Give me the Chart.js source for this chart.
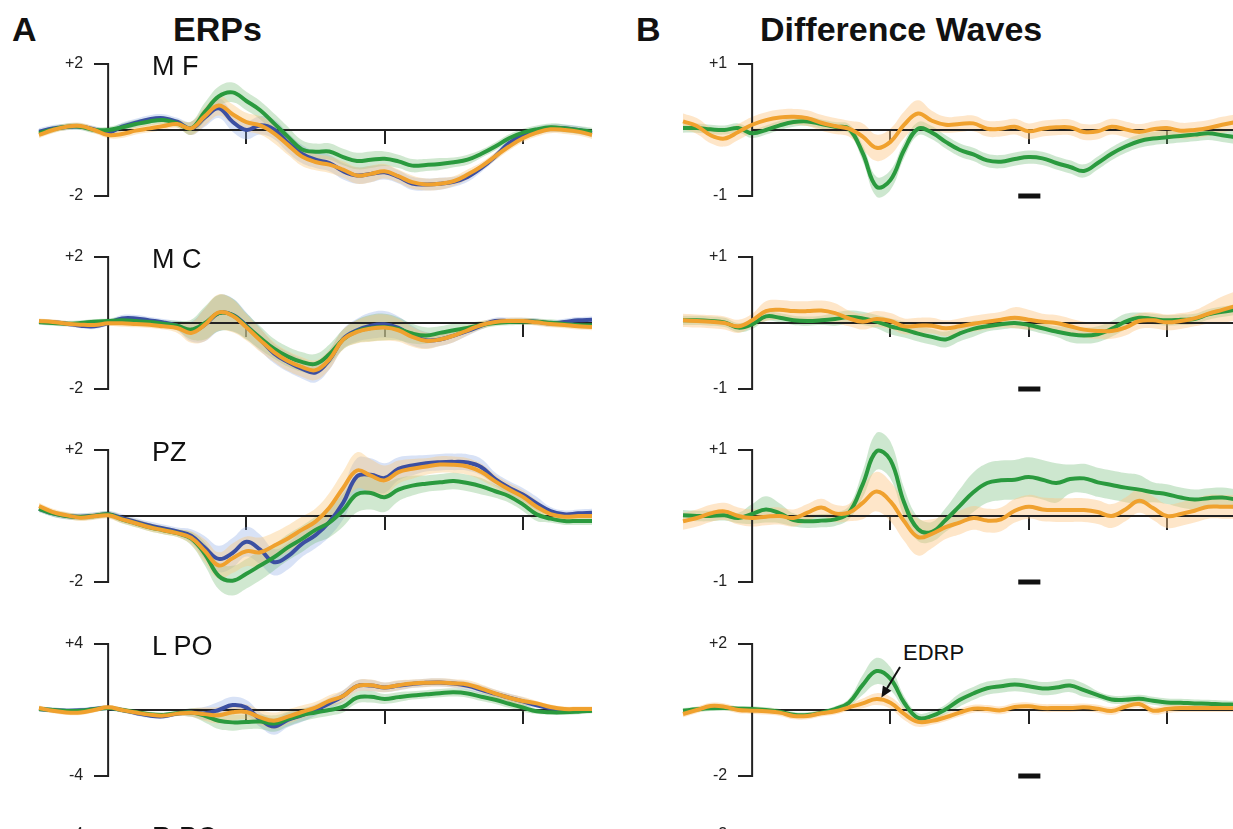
<!DOCTYPE html>
<html>
<head>
<meta charset="utf-8">
<script src="https://cdn.jsdelivr.net/npm/chart.js@4.4.1/dist/chart.umd.min.js"></script>
<style>
html, body { margin:0; padding:0; width:1233px; height:829px; overflow:hidden; background:#fff; }
body { position:relative; font-family:"Liberation Sans", Arial, sans-serif; color:#111; }
canvas { position:absolute; }
.t { position:absolute; line-height:1; white-space:nowrap; }
.big { font-size:34px; font-weight:bold; }
.lab { font-size:27px; }
.note { font-size:22px; }
</style>
</head>
<body>
<div class="t big" style="left:12px;top:12px">A</div>
<div class="t big" style="left:173px;top:12px">ERPs</div>
<div class="t big" style="left:636px;top:12px">B</div>
<div class="t big" style="left:760px;top:12px">Difference Waves</div>
<div class="t note" style="left:903px;top:642px">EDRP</div>

<script>
// time in ms, one sample every 20 ms
var times = [-100,-80,-60,-40,-20,0,20,40,60,80,100,120,140,160,180,200,220,240,260,280,300,
  320,340,360,380,400,420,440,460,480,500,520,540,560,580,600,620,640,660,680,700];

// ---- A: ERPs (uV) ----
var mfBlue   = [-0.05,0.05,0.09,0.1,0.02,-0.08,0.1,0.22,0.33,0.36,0.25,0.05,0.38,0.66,0.25,0.0,0.14,0.02,-0.38,-0.72,-0.9,-1.0,-1.25,-1.38,-1.33,-1.28,-1.42,-1.62,-1.65,-1.63,-1.57,-1.42,-1.15,-0.8,-0.4,-0.15,-0.02,0.05,0.05,0.0,-0.1];
var mfGreen  = [-0.1,0.02,0.1,0.1,0.0,0.0,0.08,0.18,0.26,0.3,0.2,0.05,0.55,1.02,1.14,0.88,0.6,0.2,-0.2,-0.58,-0.66,-0.65,-0.82,-0.94,-0.9,-0.87,-0.95,-1.08,-1.06,-1.03,-0.98,-0.9,-0.72,-0.5,-0.25,-0.08,0.02,0.08,0.05,0.0,-0.05];
var mfOrange = [-0.15,0.0,0.1,0.12,0.0,-0.15,-0.12,-0.02,0.05,0.12,0.18,0.05,0.42,0.74,0.48,0.24,0.14,-0.1,-0.45,-0.8,-0.97,-1.05,-1.2,-1.38,-1.33,-1.25,-1.4,-1.58,-1.65,-1.63,-1.55,-1.35,-1.1,-0.8,-0.5,-0.25,-0.08,0.02,0.0,-0.05,-0.15];
var mfSem    = [0.1,0.1,0.1,0.1,0.1,0.1,0.12,0.12,0.12,0.12,0.12,0.2,0.28,0.3,0.3,0.28,0.28,0.3,0.3,0.28,0.25,0.25,0.25,0.25,0.25,0.22,0.2,0.2,0.18,0.18,0.15,0.15,0.12,0.12,0.12,0.12,0.12,0.12,0.12,0.12,0.12];

var mcBlue   = [0.03,0.02,-0.02,-0.08,-0.1,0.0,0.14,0.14,0.08,0.02,-0.08,-0.26,-0.05,0.3,0.25,-0.08,-0.5,-0.92,-1.18,-1.38,-1.5,-1.12,-0.48,-0.22,-0.08,-0.04,-0.15,-0.38,-0.52,-0.5,-0.38,-0.24,-0.08,0.06,0.06,0.06,0.04,-0.01,0.03,0.08,0.1];
var mcGreen  = [0.03,0.0,-0.02,0.0,0.04,0.06,0.08,0.06,0.03,-0.02,-0.08,-0.2,0.0,0.3,0.24,-0.1,-0.45,-0.78,-1.02,-1.18,-1.24,-0.95,-0.5,-0.25,-0.15,-0.12,-0.18,-0.32,-0.38,-0.3,-0.22,-0.15,-0.06,0.0,0.03,0.04,0.04,0.01,-0.03,-0.06,-0.07];
var mcOrange = [0.06,0.03,-0.02,-0.05,-0.06,-0.01,-0.01,-0.03,-0.05,-0.1,-0.15,-0.3,-0.05,0.32,0.22,-0.13,-0.52,-0.88,-1.15,-1.33,-1.43,-1.1,-0.5,-0.27,-0.17,-0.14,-0.22,-0.42,-0.54,-0.5,-0.38,-0.22,-0.06,0.03,0.06,0.06,0.02,-0.03,-0.06,-0.1,-0.12];
var mcSem    = [0.08,0.08,0.08,0.08,0.08,0.08,0.1,0.1,0.1,0.1,0.15,0.3,0.5,0.55,0.5,0.4,0.35,0.3,0.3,0.3,0.3,0.3,0.3,0.35,0.4,0.4,0.35,0.3,0.25,0.2,0.2,0.15,0.12,0.1,0.1,0.1,0.1,0.1,0.1,0.1,0.1];

var pzBlue   = [0.22,0.08,0.0,-0.02,0.01,0.05,-0.06,-0.18,-0.29,-0.38,-0.47,-0.6,-0.96,-1.3,-1.12,-0.78,-1.02,-1.4,-1.22,-0.85,-0.58,-0.18,0.4,1.2,1.25,1.15,1.43,1.53,1.6,1.63,1.64,1.62,1.48,1.12,0.86,0.65,0.38,0.15,0.05,0.08,0.1];
var pzGreen  = [0.22,0.08,0.0,-0.03,0.0,0.05,-0.1,-0.22,-0.34,-0.43,-0.52,-0.68,-1.15,-1.82,-1.96,-1.75,-1.5,-1.25,-0.95,-0.7,-0.42,-0.2,0.18,0.66,0.7,0.57,0.8,0.92,0.98,1.02,1.06,1.0,0.9,0.75,0.6,0.35,0.05,-0.08,-0.15,-0.15,-0.15];
var pzOrange = [0.3,0.12,0.02,-0.05,-0.01,0.02,-0.1,-0.22,-0.34,-0.43,-0.52,-0.66,-1.06,-1.5,-1.28,-1.07,-1.1,-0.9,-0.68,-0.42,-0.17,0.25,0.85,1.38,1.22,1.08,1.33,1.43,1.5,1.56,1.55,1.5,1.33,1.05,0.8,0.58,0.28,0.06,-0.02,0.0,0.0];
var pzSem    = [0.1,0.1,0.1,0.1,0.1,0.1,0.12,0.12,0.12,0.12,0.12,0.2,0.35,0.4,0.45,0.45,0.45,0.4,0.4,0.4,0.4,0.45,0.5,0.55,0.5,0.45,0.35,0.3,0.25,0.25,0.25,0.25,0.25,0.2,0.2,0.2,0.2,0.12,0.12,0.12,0.12];

var lpoBlue   = [0.06,0.0,-0.04,-0.02,0.06,0.12,0.0,-0.18,-0.34,-0.38,-0.22,-0.15,-0.2,0.0,0.3,0.15,-0.58,-1.0,-0.6,-0.33,0.0,0.4,0.85,1.45,1.48,1.37,1.48,1.58,1.65,1.67,1.6,1.46,1.23,0.98,0.75,0.52,0.28,0.1,0.0,0.0,0.0];
var lpoGreen  = [0.06,0.0,-0.06,-0.05,0.05,0.12,0.0,-0.12,-0.26,-0.3,-0.2,-0.15,-0.35,-0.65,-0.75,-0.72,-0.7,-0.82,-0.55,-0.3,-0.15,0.0,0.2,0.75,0.8,0.67,0.78,0.88,0.95,1.02,1.07,1.0,0.8,0.62,0.38,0.15,-0.08,-0.14,-0.14,-0.1,-0.04];
var lpoOrange = [0.12,-0.05,-0.15,-0.15,0.0,0.16,0.0,-0.15,-0.28,-0.34,-0.22,-0.16,-0.25,-0.32,-0.14,-0.12,-0.45,-0.65,-0.4,-0.12,0.15,0.55,0.85,1.45,1.5,1.37,1.5,1.6,1.65,1.67,1.62,1.55,1.3,1.0,0.74,0.55,0.4,0.18,0.06,0.06,0.06];
var lpoSem    = [0.15,0.15,0.15,0.15,0.15,0.15,0.15,0.15,0.15,0.15,0.15,0.25,0.4,0.5,0.5,0.45,0.45,0.5,0.45,0.4,0.35,0.35,0.35,0.35,0.35,0.3,0.3,0.25,0.25,0.25,0.25,0.25,0.25,0.25,0.25,0.25,0.15,0.15,0.15,0.15,0.15];

// ---- B: difference waves (uV) ----
var dMfGreen     = [0.03,0.03,0.01,0.0,0.03,-0.05,0.0,0.07,0.12,0.13,0.09,0.05,0.02,-0.35,-0.86,-0.76,-0.3,0.02,-0.04,-0.18,-0.3,-0.37,-0.46,-0.48,-0.44,-0.41,-0.43,-0.5,-0.56,-0.62,-0.5,-0.36,-0.25,-0.17,-0.13,-0.11,-0.09,-0.07,-0.05,-0.08,-0.11];
var dMfOrange    = [0.13,0.06,-0.08,-0.13,-0.03,0.08,0.15,0.19,0.2,0.18,0.11,0.06,0.02,-0.1,-0.27,-0.18,0.08,0.25,0.14,0.08,0.09,0.1,0.02,0.02,0.05,-0.02,0.02,0.04,0.04,-0.03,-0.02,0.05,0.01,-0.03,0.01,0.03,-0.01,0.0,0.03,0.08,0.12];
var dMfGreenSem  = [0.07,0.07,0.07,0.07,0.07,0.07,0.07,0.07,0.07,0.07,0.07,0.07,0.07,0.12,0.15,0.15,0.12,0.1,0.1,0.1,0.1,0.1,0.1,0.1,0.1,0.1,0.1,0.1,0.1,0.1,0.1,0.1,0.1,0.1,0.1,0.1,0.1,0.1,0.1,0.1,0.1];
var dMfOrangeSem = [0.12,0.12,0.12,0.12,0.12,0.12,0.12,0.12,0.12,0.12,0.12,0.12,0.12,0.2,0.2,0.2,0.2,0.2,0.15,0.12,0.12,0.12,0.12,0.12,0.12,0.12,0.12,0.12,0.12,0.12,0.12,0.12,0.12,0.12,0.12,0.12,0.12,0.12,0.12,0.12,0.12];

var dMcGreen     = [0.04,0.04,0.03,0.01,-0.07,-0.02,0.1,0.08,0.04,0.03,0.04,0.06,0.09,0.07,0.02,-0.05,-0.1,-0.16,-0.21,-0.25,-0.16,-0.09,-0.05,-0.02,0.0,-0.03,-0.08,-0.13,-0.17,-0.19,-0.17,-0.09,0.02,0.08,0.06,0.04,0.05,0.06,0.13,0.17,0.2];
var dMcOrange    = [0.04,0.03,0.02,0.0,-0.05,0.04,0.18,0.2,0.18,0.18,0.19,0.15,0.07,0.02,0.06,0.03,-0.05,-0.04,-0.04,-0.08,-0.05,-0.01,0.02,0.05,0.08,0.05,0.02,0.0,-0.05,-0.1,-0.12,-0.12,-0.07,0.03,0.04,0.01,0.03,0.07,0.14,0.2,0.26];
var dMcGreenSem  = [0.07,0.07,0.07,0.07,0.07,0.07,0.07,0.07,0.07,0.07,0.07,0.1,0.1,0.1,0.1,0.12,0.12,0.12,0.12,0.12,0.12,0.12,0.08,0.08,0.08,0.08,0.08,0.08,0.12,0.12,0.12,0.12,0.12,0.08,0.08,0.08,0.08,0.08,0.08,0.08,0.08];
var dMcOrangeSem = [0.1,0.1,0.1,0.1,0.1,0.1,0.15,0.15,0.15,0.15,0.15,0.15,0.12,0.12,0.12,0.12,0.12,0.12,0.12,0.12,0.12,0.12,0.12,0.12,0.16,0.15,0.12,0.12,0.12,0.12,0.12,0.12,0.12,0.12,0.12,0.12,0.12,0.12,0.15,0.2,0.22];

var dPzGreen     = [0.01,0.0,0.0,0.01,-0.03,0.03,0.1,0.04,-0.06,-0.08,-0.07,-0.05,0.05,0.48,0.98,0.85,0.2,-0.2,-0.24,-0.06,0.15,0.36,0.5,0.54,0.55,0.59,0.55,0.5,0.56,0.57,0.51,0.47,0.43,0.4,0.36,0.33,0.28,0.25,0.27,0.28,0.25];
var dPzOrange    = [-0.08,-0.03,0.04,0.07,0.0,-0.03,-0.01,0.0,-0.03,0.05,0.13,0.04,0.05,0.2,0.37,0.22,-0.08,-0.32,-0.27,-0.17,-0.1,-0.03,-0.07,-0.05,0.08,0.14,0.1,0.09,0.09,0.09,0.06,0.0,0.1,0.23,0.12,0.0,0.03,0.08,0.14,0.14,0.14];
var dPzGreenSem  = [0.08,0.08,0.08,0.08,0.08,0.15,0.2,0.15,0.1,0.1,0.1,0.1,0.1,0.2,0.28,0.28,0.22,0.18,0.15,0.18,0.25,0.3,0.3,0.3,0.3,0.3,0.3,0.3,0.22,0.22,0.22,0.22,0.22,0.22,0.15,0.15,0.15,0.15,0.15,0.15,0.15];
var dPzOrangeSem = [0.13,0.13,0.13,0.13,0.13,0.13,0.13,0.13,0.13,0.13,0.13,0.13,0.13,0.25,0.3,0.3,0.3,0.28,0.22,0.18,0.18,0.18,0.18,0.18,0.18,0.18,0.18,0.18,0.18,0.18,0.18,0.18,0.18,0.18,0.18,0.18,0.18,0.18,0.18,0.18,0.18];

var dLpoGreen     = [-0.02,0.02,0.05,0.06,0.04,0.03,0.0,-0.05,-0.14,-0.15,-0.08,0.03,0.22,0.76,1.18,0.95,0.22,-0.24,-0.18,0.02,0.3,0.5,0.66,0.72,0.77,0.72,0.65,0.68,0.74,0.6,0.45,0.32,0.31,0.34,0.28,0.23,0.22,0.2,0.19,0.17,0.16];
var dLpoOrange    = [-0.12,0.0,0.12,0.1,0.0,-0.02,-0.04,-0.08,-0.18,-0.18,-0.1,-0.04,0.08,0.2,0.33,0.22,-0.12,-0.36,-0.33,-0.22,-0.08,0.04,0.03,-0.01,0.09,0.11,0.06,0.06,0.06,0.08,0.04,-0.03,0.1,0.18,-0.02,0.03,0.06,0.06,0.06,0.06,0.06];
var dLpoGreenSem  = [0.08,0.08,0.08,0.08,0.08,0.08,0.08,0.08,0.08,0.08,0.08,0.08,0.12,0.3,0.4,0.35,0.2,0.15,0.15,0.15,0.2,0.2,0.2,0.2,0.2,0.2,0.2,0.2,0.2,0.2,0.12,0.12,0.12,0.12,0.12,0.12,0.12,0.12,0.12,0.12,0.12];
var dLpoOrangeSem = [0.1,0.1,0.1,0.1,0.1,0.1,0.1,0.1,0.1,0.1,0.1,0.1,0.1,0.15,0.18,0.18,0.18,0.15,0.12,0.12,0.12,0.12,0.12,0.12,0.12,0.12,0.12,0.12,0.12,0.12,0.12,0.12,0.12,0.12,0.12,0.12,0.12,0.12,0.12,0.12,0.12];

// panel names and y limits per row
var electrodes = ['M F', 'M C', 'PZ', 'L PO', 'R PO'];
var limitsA = [2, 2, 2, 4, 4];
var limitsB = [1, 1, 1, 2, 2];
var xTicks = [200, 400, 600];
var sigBar = [385, 417];            // short bar under the 400 ms tick
var edrpArrow = { from: [214, 1.3], to: [187, 0.38] };

var BLUE = '#3b4fa2', GREEN = '#2a9a3e', ORANGE = '#f0a12e';
var BLUE_BAND = 'rgba(140,170,230,0.34)', GREEN_BAND = 'rgba(110,185,110,0.32)', ORANGE_BAND = 'rgba(250,200,125,0.4)';
var GREEN_BAND_B = 'rgba(100,180,105,0.32)', ORANGE_BAND_B = 'rgba(252,200,135,0.45)';

var rowY = [64, 257, 450, 644, 835];  // pixel of the upper y tick
var plotH = 132;                       // pixel distance between +lim and -lim
var extra = 33, pad = 10;
var labelX = -36;                      // ms position of the right edge of y tick labels

Chart.defaults.font.family = '"Liberation Sans", Arial, sans-serif';

function pts(vals) {
  return times.map(function (t, i) { return { x: t, y: vals[i] }; });
}
function edge(vals, sem, k) {
  return times.map(function (t, i) { return { x: t, y: vals[i] + k * sem[i] }; });
}
function noPad(s) { s.paddingTop = 0; s.paddingBottom = 0; s.paddingLeft = 0; s.paddingRight = 0; }

var arrowPlugin = {
  id: 'edrpArrow',
  afterDatasetsDraw: function (chart, args, o) {
    if (!o || !o.from) return;
    var xs = chart.scales.x, ys = chart.scales.y, ctx = chart.ctx;
    var x1 = xs.getPixelForValue(o.from[0]), y1 = ys.getPixelForValue(o.from[1]);
    var x2 = xs.getPixelForValue(o.to[0]), y2 = ys.getPixelForValue(o.to[1]);
    var a = Math.atan2(y2 - y1, x2 - x1), L = 11, W = 5;
    ctx.save();
    ctx.strokeStyle = '#111'; ctx.fillStyle = '#111'; ctx.lineWidth = 2;
    ctx.beginPath();
    ctx.moveTo(x1, y1);
    ctx.lineTo(x2 - L * 0.8 * Math.cos(a), y2 - L * 0.8 * Math.sin(a));
    ctx.stroke();
    ctx.beginPath();
    ctx.moveTo(x2, y2);
    ctx.lineTo(x2 - L * Math.cos(a) + W * Math.sin(a), y2 - L * Math.sin(a) - W * Math.cos(a));
    ctx.lineTo(x2 - L * Math.cos(a) - W * Math.sin(a), y2 - L * Math.sin(a) + W * Math.cos(a));
    ctx.closePath();
    ctx.fill();
    ctx.restore();
  }
};

function makePanel(p) {
  var c = document.createElement('canvas');
  c.width = p.width;
  c.height = plotH + 2 * extra + 2 * pad;
  c.style.left = p.left + 'px';
  c.style.top = (rowY[p.row] - extra - pad) + 'px';
  document.body.appendChild(c);

  var lim = p.lim;
  var limTicks = function (s) { s.ticks = [{ value: -lim }, { value: lim }]; };
  var ds = [];
  p.lines.forEach(function (s, i) {
    ds.push({ data: pts(s.vals), borderColor: s.color, borderWidth: 4, tension: 0.4,
      pointRadius: 0, fill: false, clip: false, order: i });
  });
  // zero line and y axis line
  ds.push({ data: [{ x: 0, y: 0 }, { x: 700, y: 0 }], borderColor: '#222', borderWidth: 2,
    pointRadius: 0, fill: false, clip: false, order: 5 });
  ds.push({ data: [{ x: 0, y: -lim }, { x: 0, y: lim }], borderColor: '#222', borderWidth: 2,
    borderCapStyle: 'square', pointRadius: 0, fill: false, clip: false, order: 5 });
  if (p.bar) {
    ds.push({ data: [{ x: sigBar[0], y: -lim }, { x: sigBar[1], y: -lim }], borderColor: '#111',
      borderWidth: 5, pointRadius: 0, fill: false, clip: false, order: 5 });
  }
  p.lines.forEach(function (s, i) {
    ds.push({ data: edge(s.vals, s.sem, 1), borderWidth: 0, pointRadius: 0, tension: 0.4,
      fill: '+1', backgroundColor: s.band, clip: false, order: 10 + i });
    ds.push({ data: edge(s.vals, s.sem, -1), borderWidth: 0, pointRadius: 0, tension: 0.4,
      fill: false, clip: false, order: 10 + i });
  });

  new Chart(c, {
    type: 'line',
    data: { datasets: ds },
    options: {
      responsive: false,
      animation: false,
      devicePixelRatio: 1,
      events: [],
      layout: { padding: { left: p.padL, right: p.padR, top: pad, bottom: pad } },
      plugins: { legend: { display: false }, tooltip: { enabled: false }, edrpArrow: p.arrow || {} },
      scales: {
        x: {
          type: 'linear', min: -100, max: 700, position: { y: 0 },
          afterBuildTicks: function (s) { s.ticks = xTicks.map(function (v) { return { value: v }; }); },
          afterFit: noPad,
          ticks: { display: false },
          grid: { drawOnChartArea: false, drawTicks: true, tickLength: 14, color: '#222', lineWidth: 2 },
          border: { display: false }
        },
        y: {
          type: 'linear', min: -lim * 1.5, max: lim * 1.5, position: { x: 0 },
          afterBuildTicks: limTicks,
          afterFit: noPad,
          ticks: { display: false },
          grid: { drawOnChartArea: false, drawTicks: true, tickLength: 14, color: '#222', lineWidth: 2 },
          border: { display: false }
        },
        yLabels: {
          type: 'linear', axis: 'y', min: -lim * 1.5, max: lim * 1.5, position: { x: labelX },
          afterBuildTicks: limTicks,
          afterFit: noPad,
          ticks: {
            padding: 0, color: '#222', font: { size: 16 },
            callback: function (v) { return v > 0 ? '+' + v : String(v); }
          },
          grid: { display: false },
          border: { display: false }
        }
      }
    },
    plugins: [arrowPlugin]
  });
}

var erpSets = [
  [mfBlue, mfGreen, mfOrange, mfSem],
  [mcBlue, mcGreen, mcOrange, mcSem],
  [pzBlue, pzGreen, pzOrange, pzSem],
  [lpoBlue, lpoGreen, lpoOrange, lpoSem]
];
var diffSets = [
  [dMfGreen, dMfOrange, dMfGreenSem, dMfOrangeSem],
  [dMcGreen, dMcOrange, dMcGreenSem, dMcOrangeSem],
  [dPzGreen, dPzOrange, dPzGreenSem, dPzOrangeSem],
  [dLpoGreen, dLpoOrange, dLpoGreenSem, dLpoOrangeSem]
];

for (var r = 0; r < 5; r++) {
  var e = erpSets[r], d = diffSets[r];
  makePanel({
    row: r, left: 0, width: 620, padL: 39, padR: 28, lim: limitsA[r],
    lines: e ? [
      { vals: e[2], sem: e[3], color: ORANGE, band: ORANGE_BAND },
      { vals: e[1], sem: e[3], color: GREEN, band: GREEN_BAND },
      { vals: e[0], sem: e[3], color: BLUE, band: BLUE_BAND }
    ] : []
  });
  makePanel({
    row: r, left: 620, width: 630, padL: 63, padR: 14, lim: limitsB[r], bar: true,
    arrow: r === 3 ? edrpArrow : null,
    lines: d ? [
      { vals: d[1], sem: d[3], color: ORANGE, band: ORANGE_BAND_B },
      { vals: d[0], sem: d[2], color: GREEN, band: GREEN_BAND_B }
    ] : []
  });
  var lab = document.createElement('div');
  lab.className = 't lab';
  lab.style.left = '152px';
  lab.style.top = (rowY[r] - 11) + 'px';
  lab.textContent = electrodes[r];
  document.body.appendChild(lab);
}
</script>
</body>
</html>
